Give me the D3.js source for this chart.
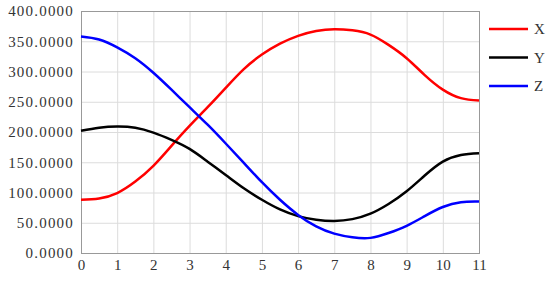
<!DOCTYPE html>
<html>
<head>
<meta charset="utf-8">
<script src="https://cdn.jsdelivr.net/npm/d3@7"></script>
<style>
  body { margin: 0; background: #fff; }
  text { font-family: "Liberation Serif", serif; fill: #333; }
</style>
</head>
<body>
<script>
// values (half steps)
const xs = [0, 0.5, 1, 1.5, 2, 2.5, 3, 3.5, 4, 4.5, 5, 5.5, 6, 6.5, 7, 7.5, 8, 8.5, 9, 9.5, 10, 10.5, 11];
const serX = [88, 90, 99, 118, 144, 177, 210, 241, 273, 304, 328, 346, 359, 367, 370, 368, 361, 344, 322, 294, 270, 256, 252];
const serY = [202, 207, 209, 207, 199, 187, 172, 151, 129, 107, 88, 72, 61, 55, 53, 56, 65, 81, 102, 128, 151, 162, 165];
const serZ = [358, 353, 340, 322, 298, 270, 241, 212, 181, 149, 117, 88, 63, 44, 32, 26, 25, 33, 45, 61, 76, 84, 85];
const names = ['X', 'Y', 'Z'];
const colors = ['#ff0000', '#000000', '#0000ff'];
const xTicks = [0, 1, 2, 3, 4, 5, 6, 7, 8, 9, 10, 11];
const yTicks = [0, 50, 100, 150, 200, 250, 300, 350, 400];

const w = 550, h = 281;
const m = {top: 11, right: 71, bottom: 28, left: 81};

const svg = d3.select('body').append('svg')
  .attr('width', w)
  .attr('height', h);

const xScale = d3.scaleLinear().domain([0, 11]).range([m.left, w - m.right]);
const yScale = d3.scaleLinear().domain([0, 400]).range([h - m.bottom, m.top]);

// grid
svg.append('g')
  .attr('transform', 'translate(0,' + (h - m.bottom) + ')')
  .call(d3.axisBottom(xScale).tickValues(xTicks).tickSize(-(h - m.top - m.bottom)).tickFormat(''))
  .call(g => g.select('.domain').remove())
  .call(g => g.selectAll('line').attr('stroke', '#dcdcdc'));
svg.append('g')
  .attr('transform', 'translate(' + m.left + ',0)')
  .call(d3.axisLeft(yScale).tickValues(yTicks).tickSize(-(w - m.left - m.right)).tickFormat(''))
  .call(g => g.select('.domain').remove())
  .call(g => g.selectAll('line').attr('stroke', '#dcdcdc'));

// frame
svg.append('rect')
  .attr('x', m.left + 0.5)
  .attr('y', m.top + 0.5)
  .attr('width', w - m.left - m.right)
  .attr('height', h - m.top - m.bottom)
  .attr('fill', 'none')
  .attr('stroke', '#999');

// axis labels
const xAxis = svg.append('g')
  .attr('transform', 'translate(0,' + (h - m.bottom) + ')')
  .call(d3.axisBottom(xScale).tickValues(xTicks).tickSize(0).tickPadding(6).tickFormat(d3.format('d')));
xAxis.select('.domain').remove();
xAxis.selectAll('text').style('font-size', '15px').style('font-family', '"Liberation Serif", serif').attr('fill', '#333');

const yAxis = svg.append('g')
  .attr('transform', 'translate(' + m.left + ',0)')
  .call(d3.axisLeft(yScale).tickValues(yTicks).tickSize(0).tickPadding(7).tickFormat(d3.format('.4f')));
yAxis.select('.domain').remove();
yAxis.selectAll('text').style('font-size', '15px').style('font-family', '"Liberation Serif", serif')
  .style('letter-spacing', '1.2px').attr('fill', '#333');

// lines
const series = [serX, serY, serZ];
const line = d3.line()
  .x((d, i) => xScale(xs[i]))
  .y(d => yScale(d))
  .curve(d3.curveNatural);

series.forEach((s, k) => {
  svg.append('path')
    .datum(s)
    .attr('fill', 'none')
    .attr('stroke', colors[k])
    .attr('stroke-width', 2.5)
    .attr('d', line);
});

// legend
const legend = svg.append('g');
names.forEach((n, k) => {
  const y = 29 + k * 28.5;
  legend.append('line')
    .attr('x1', 489).attr('x2', 528)
    .attr('y1', y).attr('y2', y)
    .attr('stroke', colors[k])
    .attr('stroke-width', 2.5);
  legend.append('text')
    .attr('x', 534)
    .attr('y', y)
    .attr('dy', '0.35em')
    .style('font-size', '15px')
    .text(n);
});
</script>
</body>
</html>
